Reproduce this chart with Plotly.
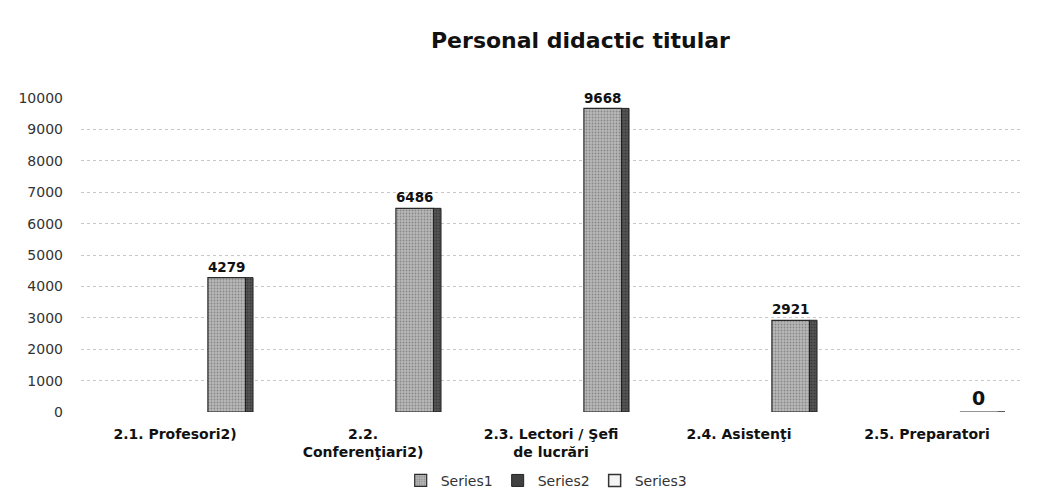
import plotly.graph_objects as go

categories = ["2.1. Profesori2)", "2.2.<br>Conferenţiari2)", "2.3. Lectori / Şefi<br>de lucrări",
              "2.4. Asistenţi", "2.5. Preparatori"]
series1 = [4279, 6486, 9668, 2921, 0]
series2 = [None, None, None, None, None]
series3 = [None, None, None, None, None]
y_ticks = [0, 1000, 2000, 3000, 4000, 5000, 6000, 7000, 8000, 9000, 10000]
y_tick_labels = [str(v) for v in y_ticks]

fig = go.Figure()
# front face of the bars
fig.add_trace(go.Bar(
    x=categories, y=series1, name="Series1",
    offset=0.175, width=0.2,
    marker=dict(color="#b8b8b8", line=dict(color="#2a2a2a", width=1.2),
                pattern=dict(shape=".", fgcolor="#555", size=3, solidity=0.3)),
    text=[str(v) for v in series1], textposition="outside",
    textfont=dict(family="DejaVu Sans", size=19, color="#111"),
    texttemplate="<b>%{text}</b>", cliponaxis=False,
))
# darker side face of the same bars
fig.add_trace(go.Bar(
    x=categories, y=series1, name="Series1", showlegend=False, hoverinfo="skip",
    offset=0.375, width=0.04,
    marker=dict(color="#555555", line=dict(color="#222", width=1),
                pattern=dict(shape=".", fgcolor="#222", size=3, solidity=0.4)),
))
fig.add_trace(go.Bar(
    x=categories, y=series2, name="Series2",
    marker=dict(color="#444", line=dict(color="#222", width=1),
                pattern=dict(shape="x", fgcolor="#111", size=3)),
))
fig.add_trace(go.Bar(
    x=categories, y=series3, name="Series3",
    marker=dict(color="#f4f4f4", line=dict(color="#333", width=1.5)),
))

fig.update_layout(
    width=1039, height=490,
    paper_bgcolor="white", plot_bgcolor="white",
    margin=dict(l=73, r=26, t=90, b=86, autoexpand=False),
    title=dict(text="<b>Personal didactic titular</b>", x=0.551, xanchor="center",
               y=0.935, yanchor="middle",
               font=dict(family="DejaVu Sans", size=22, color="#111")),
    barmode="group",
    showlegend=True,
    legend=dict(orientation="h", xref="container", yref="container",
                x=0.518, xanchor="center", y=0.035, yanchor="middle",
                font=dict(family="DejaVu Sans", size=14, color="#333"),
                itemwidth=30),
    xaxis=dict(tickfont=dict(family="DejaVu Sans", size=14, color="#111"),
               tickprefix="<b>", ticksuffix="</b>", automargin=False,
               showline=False, ticks="", tickangle=0, ticklabelstandoff=12),
    yaxis=dict(range=[0, 10000], tickvals=y_ticks, ticktext=y_tick_labels,
               tickfont=dict(family="DejaVu Sans", size=14, color="#333"),
               showgrid=True, gridcolor="#c8c8c8", griddash="dot", gridwidth=1,
               zeroline=False, ticklabelstandoff=17, automargin=False),
)
fig.write_html("out.html")
